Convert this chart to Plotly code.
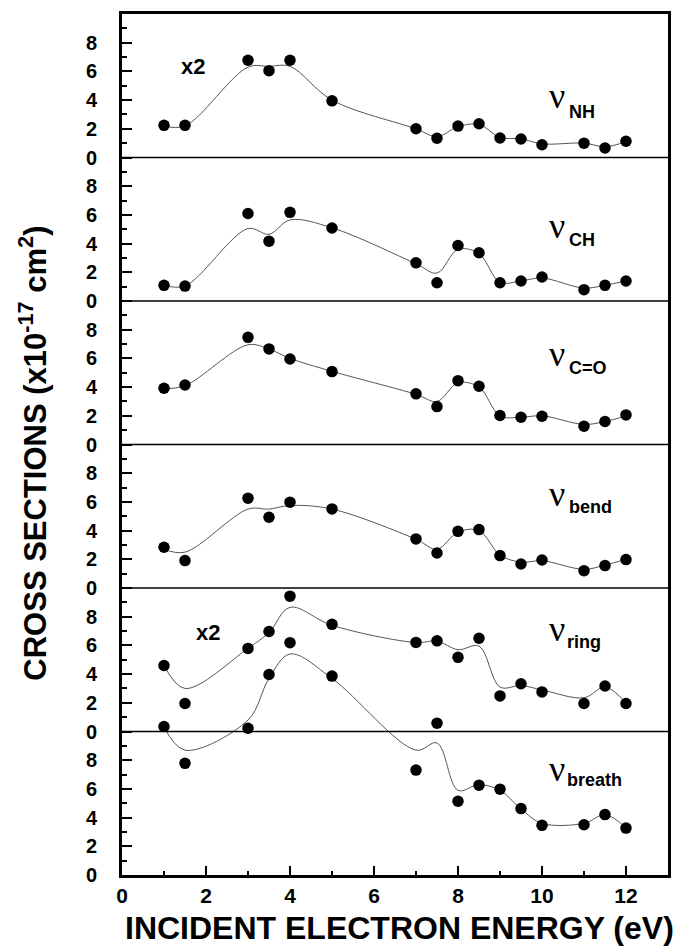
import plotly.graph_objects as go

# ---------------- data ----------------
energy = [1, 1.5, 3, 3.5, 4, 5, 7, 7.5, 8, 8.5, 9, 9.5, 10, 11, 11.5, 12]

nh_points = [2.24, 2.24, 6.78, 6.05, 6.78, 3.95, 2.0, 1.34, 2.19, 2.35, 1.36, 1.29, 0.89, 1.0, 0.66, 1.13]
nh_fit = [2.2, 2.2, 6.3, 6.35, 6.35, 4.0, 2.0, 1.45, 2.15, 2.3, 1.4, 1.3, 0.95, 1.0, 0.75, 1.1]

ch_points = [1.09, 1.04, 6.1, 4.17, 6.18, 5.09, 2.66, 1.27, 3.87, 3.36, 1.27, 1.39, 1.67, 0.79, 1.09, 1.39]
ch_fit = [1.1, 1.05, 5.05, 4.65, 5.65, 5.1, 2.6, 1.95, 3.6, 3.3, 1.3, 1.4, 1.6, 0.9, 1.1, 1.4]

co_points = [3.92, 4.15, 7.47, 6.66, 5.96, 5.08, 3.53, 2.64, 4.45, 4.06, 2.02, 1.90, 1.97, 1.28, 1.60, 2.06]
co_fit = [3.9, 4.1, 6.95, 6.65, 6.0, 5.1, 3.5, 3.0, 4.3, 4.0, 2.0, 1.9, 2.0, 1.4, 1.6, 2.0]

bend_points = [2.84, 1.91, 6.26, 4.93, 5.98, 5.51, 3.42, 2.44, 3.95, 4.07, 2.26, 1.67, 1.95, 1.21, 1.56, 1.98]
bend_fit = [2.7, 2.5, 5.5, 5.5, 5.75, 5.5, 3.4, 2.7, 3.9, 4.0, 2.3, 1.8, 1.9, 1.3, 1.6, 2.0]

ring_points = [4.6, 1.95, 5.79, 6.97, 9.43, 7.47, 6.21, 6.32, 5.17, 6.5, 2.48, 3.33, 2.76, 1.95, 3.17, 1.95]
ring_fit = [4.6, 3.0, 5.8, 6.9, 8.65, 7.4, 6.2, 6.3, 5.7, 5.95, 3.1, 3.2, 2.9, 2.35, 3.1, 2.0]

breath_points = [10.35, 7.78, 10.23, 13.97, 16.19, 13.86, 7.31, 10.58, 5.14, 6.26, 5.98, 4.63, 3.46, 3.50, 4.21, 3.27]
breath_fit = [10.3, 8.7, 10.8, 13.7, 15.4, 13.7, 8.7, 9.2, 5.9, 6.3, 5.9, 4.6, 3.6, 3.6, 4.2, 3.3]

panel_labels = ["NH", "CH", "C=O", "bend", "ring", "breath"]
panel_points = [nh_points, ch_points, co_points, bend_points, ring_points, breath_points]
panel_fits = [nh_fit, ch_fit, co_fit, bend_fit, ring_fit, breath_fit]

y_tick_labels = ["0", "2", "4", "6", "8"]
x_tick_values = [0, 2, 4, 6, 8, 10, 12]

# ---------------- layout constants ----------------
PANEL = 10
n = len(panel_labels)
offsets = [PANEL * (n - 1 - i) for i in range(n)]  # top panel first

nu_y = [4.3, 5.25, 6.3, 6.55, 7.15, 7.4]
sub_y = [3.2, 4.25, 5.3, 5.65, 6.25, 6.65]
sub_x = [10.6, 10.6, 10.6, 10.6, 10.55, 10.55]

fig = go.Figure()

for pts, fit, off in zip(panel_points, panel_fits, offsets):
    fig.add_trace(go.Scatter(
        x=energy, y=[v + off for v in fit], mode="lines",
        line=dict(color="#555555", width=1, shape="spline", smoothing=1.0),
        hoverinfo="skip", showlegend=False))
    fig.add_trace(go.Scatter(
        x=energy, y=[v + off for v in pts], mode="markers",
        marker=dict(color="black", size=11.5, line=dict(width=0)),
        showlegend=False, cliponaxis=False))

tickvals = []
ticktext = []
for off in sorted(offsets):
    for t in y_tick_labels:
        tickvals.append(off + float(t))
        ticktext.append(t)
minor_vals = [off + v for off in sorted(offsets) for v in range(1, PANEL, 2)]

shapes = []
for off in offsets:
    if off == 0:
        continue
    shapes.append(dict(type="line", xref="paper", x0=0, x1=1, yref="y", y0=off, y1=off,
                       line=dict(color="black", width=1.6)))

annotations = []
for name, off, ny, sy, sx in zip(panel_labels, offsets, nu_y, sub_y, sub_x):
    annotations.append(dict(
        x=10.12, y=off + ny, xref="x", yref="y", xanchor="left", yanchor="middle",
        showarrow=False, text="ν",
        font=dict(family="Liberation Serif", size=36, color="black")))
    annotations.append(dict(
        x=sx, y=off + sy, xref="x", yref="y", xanchor="left", yanchor="middle",
        showarrow=False, text="<b>" + name + "</b>",
        font=dict(family="Liberation Sans", size=18, color="black")))

for xx, yy in [(1.68, offsets[0] + 6.35), (2.05, offsets[4] + 6.9)]:
    annotations.append(dict(x=xx, y=yy, xref="x", yref="y", showarrow=False,
                            text="<b>x2</b>",
                            font=dict(family="Liberation Sans", size=22, color="black")))

# axis titles as annotations for precise placement
annotations.append(dict(
    x=0.508, y=-0.0615, xref="paper", yref="paper", xanchor="center", yanchor="middle",
    showarrow=False, text="<b>INCIDENT ELECTRON ENERGY (eV)</b>",
    font=dict(family="Liberation Sans", size=32, color="black")))
annotations.append(dict(
    x=-0.162, y=0.49, xref="paper", yref="paper", xanchor="center", yanchor="middle",
    showarrow=False, textangle=-90,
    text="<b>CROSS SECTIONS (x10<sup>-17</sup> cm<sup>2</sup>)</b>",
    font=dict(family="Liberation Sans", size=31, color="black")))

fig.update_layout(
    width=682, height=946,
    margin=dict(l=122, r=11, t=14, b=71),
    paper_bgcolor="white", plot_bgcolor="white",
    font=dict(family="Liberation Sans", color="black"),
    shapes=shapes, annotations=annotations,
    xaxis=dict(
        range=[0, 13], showgrid=False, zeroline=False,
        showline=True, linecolor="black", linewidth=3, mirror=True,
        ticks="inside", ticklen=9, tickwidth=2, tickcolor="black",
        tickvals=x_tick_values, ticktext=[str(v) for v in x_tick_values],
        tickfont=dict(family="Liberation Sans", size=21, color="black", weight="bold"),
        minor=dict(tickmode="array", tickvals=[1, 3, 5, 7, 9, 11],
                   ticks="inside", ticklen=4, tickwidth=2, tickcolor="black"),
    ),
    yaxis=dict(
        range=[0, PANEL * n], showgrid=False, zeroline=False,
        showline=True, linecolor="black", linewidth=3, mirror=True,
        ticks="inside", ticklen=10, tickwidth=2, tickcolor="black",
        tickvals=tickvals, ticktext=ticktext,
        tickfont=dict(family="Liberation Sans", size=20, color="black", weight="bold"),
        ticklabelstandoff=18,
        minor=dict(tickmode="array", tickvals=minor_vals,
                   ticks="inside", ticklen=5, tickwidth=2, tickcolor="black"),
    ),
)

fig.write_html("out.html")
